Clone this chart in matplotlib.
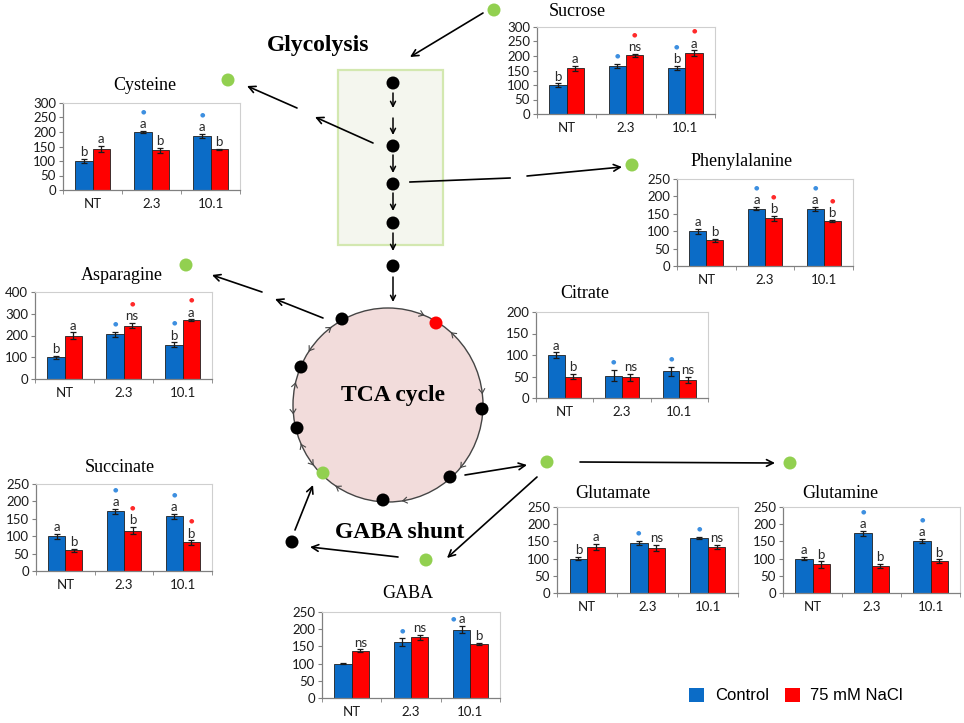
import numpy as np
import matplotlib.pyplot as plt
from matplotlib.patches import Rectangle, Ellipse, Circle

W, H = 964, 723
BLUE = "#0b6cc7"
RED = "#ff0000"
STAR_BLUE = "#3d8fe0"
STAR_RED = "#ff2a2a"
GREEN = "#92d050"

groups = ["NT", "2.3", "10.1"]

# ---- data (relative levels, NT control = 100) ----
cysteine_ctrl = [100, 200, 187]
cysteine_nacl = [142, 137, 140]
cysteine_ctrl_err = [7, 3, 7]
cysteine_nacl_err = [10, 8, 3]
cysteine_ctrl_txt = ["b", "a", "a"]
cysteine_nacl_txt = ["a", "b", "b"]
cysteine_ctrl_star = [0, 1, 1]
cysteine_nacl_star = [0, 0, 0]

sucrose_ctrl = [100, 165, 158]
sucrose_nacl = [157, 202, 209]
sucrose_ctrl_err = [6, 6, 7]
sucrose_nacl_err = [9, 5, 10]
sucrose_ctrl_txt = ["b", "", "b"]
sucrose_nacl_txt = ["a", "ns", "a"]
sucrose_ctrl_star = [0, 1, 1]
sucrose_nacl_star = [0, 1, 1]

phe_ctrl = [100, 165, 163]
phe_nacl = [74, 137, 129]
phe_ctrl_err = [7, 5, 6]
phe_nacl_err = [5, 7, 3]
phe_ctrl_txt = ["a", "a", "a"]
phe_nacl_txt = ["b", "b", "b"]
phe_ctrl_star = [0, 1, 1]
phe_nacl_star = [0, 1, 1]

asn_ctrl = [100, 205, 158]
asn_nacl = [200, 245, 270]
asn_ctrl_err = [8, 10, 10]
asn_nacl_err = [15, 12, 4]
asn_ctrl_txt = ["b", "", "b"]
asn_nacl_txt = ["a", "ns", "a"]
asn_ctrl_star = [0, 1, 1]
asn_nacl_star = [0, 1, 1]

citrate_ctrl = [100, 52, 62]
citrate_nacl = [50, 48, 43]
citrate_ctrl_err = [6, 13, 10]
citrate_nacl_err = [6, 8, 7]
citrate_ctrl_txt = ["a", "", ""]
citrate_nacl_txt = ["b", "ns", "ns"]
citrate_ctrl_star = [0, 1, 1]
citrate_nacl_star = [0, 0, 0]

succ_ctrl = [100, 172, 157]
succ_nacl = [60, 116, 82]
succ_ctrl_err = [7, 7, 7]
succ_nacl_err = [4, 10, 6]
succ_ctrl_txt = ["a", "a", "a"]
succ_nacl_txt = ["b", "b", "b"]
succ_ctrl_star = [0, 1, 1]
succ_nacl_star = [0, 1, 1]

glu_ctrl = [100, 145, 160]
glu_nacl = [134, 131, 134]
glu_ctrl_err = [5, 5, 4]
glu_nacl_err = [9, 8, 6]
glu_ctrl_txt = ["b", "", ""]
glu_nacl_txt = ["a", "ns", "ns"]
glu_ctrl_star = [0, 1, 1]
glu_nacl_star = [0, 0, 0]

gln_ctrl = [100, 173, 152]
gln_nacl = [83, 79, 92]
gln_ctrl_err = [5, 7, 6]
gln_nacl_err = [9, 6, 6]
gln_ctrl_txt = ["a", "a", "a"]
gln_nacl_txt = ["b", "b", "b"]
gln_ctrl_star = [0, 1, 1]
gln_nacl_star = [0, 0, 0]

gaba_ctrl = [100, 162, 199]
gaba_nacl = [138, 177, 157]
gaba_ctrl_err = [2, 11, 11]
gaba_nacl_err = [3, 7, 3]
gaba_ctrl_txt = ["", "", "a"]
gaba_nacl_txt = ["ns", "ns", "b"]
gaba_ctrl_star = [0, 1, 2]   # 2 = star drawn beside the letter
gaba_nacl_star = [0, 0, 0]

fig = plt.figure(figsize=(W / 100, H / 100), dpi=100)

# ---- pathway scheme drawn in pixel coordinates ----
bg = fig.add_axes([0, 0, 1, 1])
bg.set_xlim(0, W)
bg.set_ylim(H, 0)
bg.axis("off")

bg.add_patch(Rectangle((338, 70), 105, 175, fc="#f4f6ee", ec="#d3e8b0", lw=1.6))
bg.add_patch(Ellipse((388, 405), 190, 194, fc="#f2dcdb", ec="#454545", lw=1.0))

serif = "Liberation Serif"
bg.text(318, 46, "Glycolysis", family=serif, weight="bold", fontsize=17, ha="center", va="center")
bg.text(393, 396, "TCA cycle", family=serif, weight="bold", fontsize=17, ha="center", va="center")
bg.text(400, 532, "GABA shunt", family=serif, weight="bold", fontsize=17, ha="center", va="center")


def arrow(tail, head, lw=1.2, ms=12):
    bg.annotate("", xy=head, xytext=tail,
                arrowprops=dict(arrowstyle="->", lw=lw, color="black",
                                mutation_scale=ms, shrinkA=0, shrinkB=0))


# glycolysis steps
for y0, y1 in [(93, 108), (118, 135), (155, 173), (193, 211), (233, 251), (277, 302)]:
    arrow((393, y0), (393, y1), lw=1.1, ms=9)

dots = [(393, 83, "k"), (393, 146, "k"), (393, 184, "k"), (393, 223, "k"), (393, 266, "k"),
        (342, 319, "k"), (436, 323, "red"), (301, 367, "k"), (482, 409, "k"),
        (297, 428, "k"), (323, 473, GREEN), (450, 477, "k"), (383, 500, "k"),
        (547, 462, GREEN), (426, 560, GREEN), (292, 542, "k"), (790, 463, GREEN),
        (494, 10, GREEN), (228, 80, GREEN), (632, 165, GREEN), (186, 265, GREEN)]
for x, y, c in dots:
    bg.add_patch(Circle((x, y), 6.5, fc=c, ec="none", zorder=5))

# small reaction chevrons around the TCA cycle: (angle deg, +1 clockwise / -1 counter)
cx, cy, rx, ry = 388, 405, 95, 97
for ang, d in [(68, 1), (48, -1), (7, 1), (-40, 1), (-81, 1), (-123, 1), (-142, -1),
               (-156, 1), (-175, -1), (167, 1), (146, -1), (127, 1)]:
    a = np.deg2rad(ang)
    px, py = cx + rx * np.cos(a), cy - ry * np.sin(a)
    tx, ty = np.sin(a) * d, np.cos(a) * d   # tangent in pixel space (y down)
    for s in (1, -1):
        rot = np.deg2rad(35 * s)
        bx = -(tx * np.cos(rot) - ty * np.sin(rot))
        by = -(tx * np.sin(rot) + ty * np.cos(rot))
        bg.plot([px, px + 5 * bx], [py, py + 5 * by], color="#454545", lw=0.8)

for tail, head in [((483, 13), (410, 57)), ((373, 143), (315, 117)), ((297, 108), (247, 86)),
                   ((527, 176), (622, 167)), ((323, 318), (275, 299)), ((262, 292), (212, 275)),
                   ((465, 475), (527, 465)), ((580, 462), (775, 463)), ((537, 477), (447, 558)),
                   ((398, 557), (310, 547)), ((295, 530), (313, 485))]:
    arrow(tail, head)
bg.plot([410, 510], [182, 178], color="black", lw=1.2)

# legend
bg.add_patch(Rectangle((689, 688), 15, 14, fc=BLUE, ec="none"))
bg.text(715, 696, "Control", family="Liberation Sans", fontsize=12, va="center")
bg.add_patch(Rectangle((785, 688), 15, 14, fc=RED, ec="none"))
bg.text(810, 696, "75 mM NaCl", family="Liberation Sans", fontsize=12, va="center")


def chart(rect, title, title_xy, ctrl, nacl, ctrl_err, nacl_err,
          ctrl_txt, nacl_txt, ctrl_star, nacl_star, ymax, ystep):
    l, t, r, b = rect
    ax = fig.add_axes([l / W, 1 - b / H, (r - l) / W, (b - t) / H])
    ax.patch.set_alpha(0)
    x = np.arange(len(groups))
    w = 0.29
    ekw = dict(elinewidth=0.9, capthick=0.9, ecolor="#1a1a1a")
    ax.bar(x - w / 2, ctrl, w, yerr=ctrl_err, color=BLUE, edgecolor="#202020",
           lw=0.6, capsize=2.2, error_kw=ekw)
    ax.bar(x + w / 2, nacl, w, yerr=nacl_err, color=RED, edgecolor="#202020",
           lw=0.6, capsize=2.2, error_kw=ekw)
    for xs, vals, errs, txts, stars, sc in [(x - w / 2, ctrl, ctrl_err, ctrl_txt, ctrl_star, STAR_BLUE),
                                            (x + w / 2, nacl, nacl_err, nacl_txt, nacl_star, STAR_RED)]:
        for xi, v, e, tx, st in zip(xs, vals, errs, txts, stars):
            top = v + e
            if tx:
                ax.annotate(tx, (xi, top), xytext=(0, 0.5), textcoords="offset points",
                            ha="center", va="bottom", fontsize=9.5, family="Lato", color="#2a2a2a")
            if st == 1:
                off = 12 if tx else 4
                ax.annotate("●", (xi, top), xytext=(0, off), textcoords="offset points",
                            ha="center", va="bottom", fontsize=4.5, color=sc)
            elif st == 2:
                ax.annotate("●", (xi, top), xytext=(-6, 3), textcoords="offset points",
                            ha="center", va="bottom", fontsize=4.5, color=sc)
    ax.set_xlim(-0.5, 2.5)
    ax.set_ylim(0, ymax)
    ax.set_yticks(np.arange(0, ymax + 1, ystep))
    ax.set_xticks(x)
    ax.set_xticklabels(groups)
    ax.set_xticks([-0.5, 0.5, 1.5, 2.5], minor=True)
    ax.tick_params(axis="x", which="major", length=0, pad=6)
    ax.tick_params(axis="x", which="minor", length=3, color="#808080", direction="out")
    ax.tick_params(axis="y", length=3, color="#808080", pad=2)
    for lab in ax.get_xticklabels() + ax.get_yticklabels():
        lab.set_family("Lato")
        lab.set_fontsize(9.5)
        lab.set_color("#1a1a1a")
    for s in ["top", "right"]:
        ax.spines[s].set_color("#cfcfcf")
        ax.spines[s].set_linewidth(0.8)
    for s in ["left", "bottom"]:
        ax.spines[s].set_color("#808080")
        ax.spines[s].set_linewidth(0.9)
    bg.text(title_xy[0], title_xy[1], title, family=serif, fontsize=13,
            ha="center", va="center")
    return ax


chart((63, 103, 240, 190), "Cysteine", (145, 85), cysteine_ctrl, cysteine_nacl,
      cysteine_ctrl_err, cysteine_nacl_err, cysteine_ctrl_txt, cysteine_nacl_txt,
      cysteine_ctrl_star, cysteine_nacl_star, 300, 50)
chart((537, 27, 715, 114), "Sucrose", (577, 12), sucrose_ctrl, sucrose_nacl,
      sucrose_ctrl_err, sucrose_nacl_err, sucrose_ctrl_txt, sucrose_nacl_txt,
      sucrose_ctrl_star, sucrose_nacl_star, 300, 50)
chart((677, 179, 853, 266), "Phenylalanine", (742, 162), phe_ctrl, phe_nacl,
      phe_ctrl_err, phe_nacl_err, phe_ctrl_txt, phe_nacl_txt,
      phe_ctrl_star, phe_nacl_star, 250, 50)
chart((35, 292, 212, 379), "Asparagine", (122, 276), asn_ctrl, asn_nacl,
      asn_ctrl_err, asn_nacl_err, asn_ctrl_txt, asn_nacl_txt,
      asn_ctrl_star, asn_nacl_star, 400, 100)
chart((536, 312, 708, 398), "Citrate", (585, 294), citrate_ctrl, citrate_nacl,
      citrate_ctrl_err, citrate_nacl_err, citrate_ctrl_txt, citrate_nacl_txt,
      citrate_ctrl_star, citrate_nacl_star, 200, 50)
chart((36, 484, 212, 571), "Succinate", (120, 468), succ_ctrl, succ_nacl,
      succ_ctrl_err, succ_nacl_err, succ_ctrl_txt, succ_nacl_txt,
      succ_ctrl_star, succ_nacl_star, 250, 50)
chart((557, 507, 738, 593), "Glutamate", (613, 494), glu_ctrl, glu_nacl,
      glu_ctrl_err, glu_nacl_err, glu_ctrl_txt, glu_nacl_txt,
      glu_ctrl_star, glu_nacl_star, 250, 50)
chart((783, 507, 960, 593), "Glutamine", (840, 494), gln_ctrl, gln_nacl,
      gln_ctrl_err, gln_nacl_err, gln_ctrl_txt, gln_nacl_txt,
      gln_ctrl_star, gln_nacl_star, 250, 50)
chart((322, 612, 500, 698), "GABA", (408, 594), gaba_ctrl, gaba_nacl,
      gaba_ctrl_err, gaba_nacl_err, gaba_ctrl_txt, gaba_nacl_txt,
      gaba_ctrl_star, gaba_nacl_star, 250, 50)

fig.savefig("out.png", dpi=100)
